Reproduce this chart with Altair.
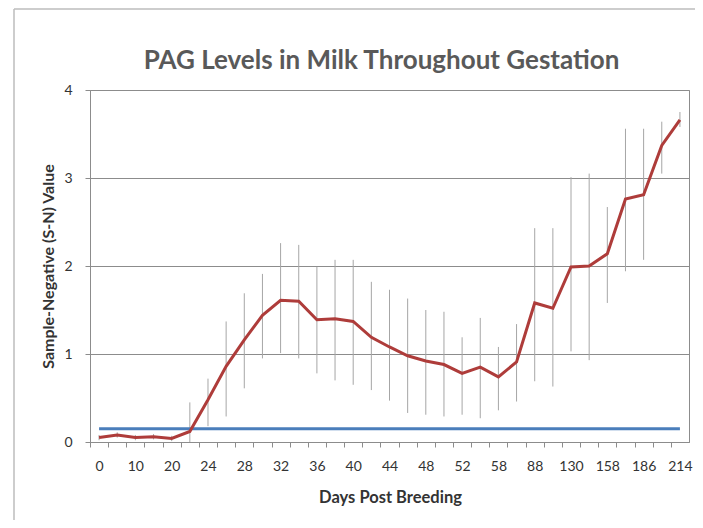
import altair as alt
import pandas as pd

# Days post breeding (categorical axis); only every other label is shown
days = ["0", "5", "10", "15", "20", "22", "24", "26", "28", "30", "32", "34",
        "36", "38", "40", "42", "44", "46", "48", "50", "52", "55", "58", "74",
        "88", "109", "130", "144", "158", "172", "186", "200", "214"]
shown_labels = ["0", "10", "20", "24", "28", "32", "36", "40", "44", "48",
                "52", "58", "88", "130", "158", "186", "214"]

# Mean S-N value
mean_sn = [0.05, 0.08, 0.05, 0.06, 0.04, 0.12, 0.48, 0.86, 1.16, 1.44, 1.61,
           1.60, 1.39, 1.40, 1.37, 1.19, 1.08, 0.98, 0.92, 0.88, 0.78, 0.85,
           0.74, 0.91, 1.58, 1.52, 1.99, 2.00, 2.14, 2.76, 2.81, 3.37, 3.66]
# Error bar lower / upper ends
err_low = [0.02, 0.05, 0.02, 0.03, 0.01, 0.00, 0.18, 0.29, 0.61, 0.95, 1.01,
           0.95, 0.78, 0.70, 0.65, 0.59, 0.47, 0.33, 0.31, 0.29, 0.31, 0.27,
           0.36, 0.46, 0.69, 0.63, 1.03, 0.93, 1.58, 1.94, 2.07, 3.05, 3.58]
err_high = [0.08, 0.11, 0.08, 0.09, 0.07, 0.45, 0.72, 1.37, 1.69, 1.91, 2.26,
            2.24, 1.99, 2.07, 2.07, 1.82, 1.73, 1.63, 1.50, 1.48, 1.19, 1.41,
            1.08, 1.34, 2.43, 2.43, 3.01, 3.05, 2.67, 3.56, 3.56, 3.64, 3.75]
# Positive cut-off line
cutoff = [0.15] * len(days)

df = pd.DataFrame({"day": days, "mean": mean_sn, "lo": err_low,
                   "hi": err_high, "cut": cutoff})

GRID = "#8C8C8C"
FONT = "Lato"
step = 599 / len(days)

label_list = "[" + ",".join("'%s'" % s for s in shown_labels) + "]"

x_enc = alt.X(
    "day:N", sort=days,
    scale=alt.Scale(type="point", padding=0.5),
    axis=alt.Axis(
        title="Days Post Breeding", labelAngle=0,
        labelExpr="indexof(%s, datum.label) >= 0 ? datum.label : ''" % label_list,
        tickOffset=-step / 2, labelOffset=step / 2,
        tickSize=5, tickColor=GRID, domainColor=GRID,
        labelFont=FONT, labelFontSize=14, labelColor="#333333", labelPadding=12,
        titleFont=FONT, titleFontSize=16.5, titleFontWeight="bold",
        titleColor="#333333", titleX=300, titleY=55, titleBaseline="middle",
        titleAnchor="middle", titleAlign="center", grid=False,
    ),
)
y_enc = alt.Y(
    "lo:Q",
    scale=alt.Scale(domain=[0, 4], nice=False),
    axis=alt.Axis(
        title="Sample-Negative (S-N) Value", values=[0, 1, 2, 3, 4], format="d",
        grid=True, gridColor=GRID, tickSize=5, tickColor=GRID,
        domainColor=GRID, labelFont=FONT, labelFontSize=14,
        labelColor="#333333", labelPadding=13,
        titleFont=FONT, titleFontSize=16, titleFontWeight="bold",
        titleColor="#333333", titleX=-42, titleY=176, titleAngle=-90,
        titleBaseline="middle", titleAlign="center",
    ),
)

base = alt.Chart(df)

errbars = base.mark_rule(color="#A6A6A6", strokeWidth=1).encode(
    x=x_enc, y=y_enc, y2="hi:Q")
cut_line = base.mark_line(color="#4A7EBB", strokeWidth=3).encode(
    x=x_enc, y=alt.Y("cut:Q", scale=alt.Scale(domain=[0, 4], nice=False)))
mean_line = base.mark_line(color="#AE3C3A", strokeWidth=3).encode(
    x=x_enc, y=alt.Y("mean:Q", scale=alt.Scale(domain=[0, 4], nice=False)))

frame_df = pd.DataFrame({"a": [0]})
frame_left = alt.Chart(frame_df).mark_rule(color="#BDBDBD", strokeWidth=1.5).encode(
    x=alt.value(-76), y=alt.value(-81), y2=alt.value(440))
frame_top = alt.Chart(frame_df).mark_rule(color="#BDBDBD", strokeWidth=1.5).encode(
    x=alt.value(-76), x2=alt.value(620), y=alt.value(-81))

chart = alt.layer(errbars, cut_line, mean_line, frame_left, frame_top).properties(
    width=599, height=352,
    title=alt.TitleParams(
        "PAG Levels in Milk Throughout Gestation", font=FONT, fontSize=26,
        fontWeight="bold", color="#595959", anchor="middle", dx=-8, offset=14,
        dy=80,
    ),
    autosize=alt.AutoSizeParams(type="none"),
    padding={"left": 82, "top": 82, "right": 6, "bottom": 78},
    background="white",
).configure_view(stroke=GRID, strokeWidth=1)

chart.save("out.html", embed_options={"renderer": "svg", "actions": False})
